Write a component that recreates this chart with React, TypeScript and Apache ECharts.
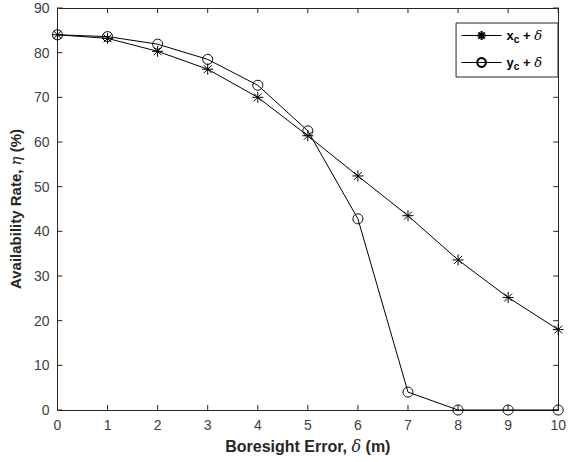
import React, { useEffect, useRef } from "react";
import * as echarts from "echarts";

const xValues = [0, 1, 2, 3, 4, 5, 6, 7, 8, 9, 10];
const xcSeries = [84, 83.2, 80.3, 76.3, 70, 61.4, 52.4, 43.5, 33.6, 25.2, 18];
const ycSeries = [84, 83.6, 81.9, 78.5, 72.7, 62.5, 42.8, 4, 0, 0, 0];
const xTicks = [0, 1, 2, 3, 4, 5, 6, 7, 8, 9, 10];
const yTicks = [0, 10, 20, 30, 40, 50, 60, 70, 80, 90];

const STAR = "path://M0,-6L0,6M-6,0L6,0M-4.3,-4.3L4.3,4.3M-4.3,4.3L4.3,-4.3";
const INK = "#262626";
const FONT = "Liberation Sans, Arial, sans-serif";
const TICK = 5;

export default function App() {
  const ref = useRef<HTMLDivElement>(null);
  useEffect(() => {
    if (!ref.current) return;
    const chart = echarts.init(ref.current, undefined, { renderer: "svg" });
    const legendRich = {
      a: { fontFamily: FONT, fontWeight: "bold", fontSize: 13, color: "#000" },
      s: { fontFamily: FONT, fontWeight: "bold", fontSize: 10, color: "#000", padding: [7, 0, 0, 0] },
      i: { fontFamily: "DejaVu Serif, serif", fontStyle: "italic", fontSize: 13, color: "#000" },
    };
    const nameRichY = {
      b: { fontFamily: FONT, fontWeight: "bold", fontSize: 15, color: INK },
      i: { fontFamily: "DejaVu Serif, serif", fontStyle: "italic", fontSize: 15, color: INK },
    };
    const nameRichX = {
      b: { fontFamily: FONT, fontWeight: "bold", fontSize: 16, color: INK },
      i: { fontFamily: "DejaVu Serif, serif", fontStyle: "italic", fontSize: 16, color: INK },
    };
    const xMin = xTicks[0];
    const xMax = xTicks[xTicks.length - 1];
    const yMin = yTicks[0];
    const yMax = yTicks[yTicks.length - 1];
    const tickData: number[][] = [];
    xTicks.forEach((v) => {
      tickData.push([v, yMin, 0]);
      tickData.push([v, yMax, 1]);
    });
    yTicks.forEach((v) => {
      tickData.push([xMin, v, 2]);
      tickData.push([xMax, v, 3]);
    });
    const line = { show: true, onZero: false, lineStyle: { color: INK, width: 1 } };
    const label = { color: "#404040", fontSize: 14, fontFamily: FONT, margin: 8 };
    chart.setOption({
      animation: false,
      backgroundColor: "#fff",
      grid: { left: 55, right: 7, top: 8, bottom: 52, show: false },
      legend: {
        data: ["xc", "yc"],
        orient: "vertical",
        right: 11,
        top: 23,
        itemWidth: 40,
        itemHeight: 11,
        itemGap: 12,
        padding: [6, 16, 6, 5],
        borderColor: INK,
        borderWidth: 1,
        backgroundColor: "#fff",
        lineStyle: { width: 1 },
        textStyle: { rich: legendRich },
        formatter: (name: string) =>
          name === "xc" ? "{a|x}{s|c}{a| + }{i|δ}" : "{a|y}{s|c}{a| + }{i|δ}",
      },
      xAxis: [
        {
          type: "value",
          position: "bottom",
          min: xMin,
          max: xMax,
          interval: 1,
          axisLine: line,
          axisTick: { show: false },
          splitLine: { show: false },
          axisLabel: label,
          name: "{b|Boresight Error, }{i|δ}{b| (m)}",
          nameLocation: "middle",
          nameGap: 28,
          nameTextStyle: { rich: nameRichX },
        },
        {
          type: "value",
          position: "top",
          min: xMin,
          max: xMax,
          interval: 1,
          axisLine: line,
          axisTick: { show: false },
          splitLine: { show: false },
          axisLabel: { show: false },
        },
      ],
      yAxis: [
        {
          type: "value",
          position: "left",
          min: yMin,
          max: yMax,
          interval: 10,
          axisLine: line,
          axisTick: { show: false },
          splitLine: { show: false },
          axisLabel: label,
          name: "{b|Availability Rate, }{i|η}{b| (%)}",
          nameLocation: "middle",
          nameGap: 31,
          nameTextStyle: { rich: nameRichY },
        },
        {
          type: "value",
          position: "right",
          min: yMin,
          max: yMax,
          interval: 10,
          axisLine: line,
          axisTick: { show: false },
          splitLine: { show: false },
          axisLabel: { show: false },
        },
      ],
      series: [
        {
          name: "ticks",
          type: "custom",
          silent: true,
          z: 1,
          data: tickData,
          renderItem: (_params: any, api: any) => {
            const p = api.coord([api.value(0), api.value(1)]);
            const d = api.value(2);
            let x2 = p[0];
            let y2 = p[1];
            if (d === 0) y2 -= TICK;
            else if (d === 1) y2 += TICK;
            else if (d === 2) x2 += TICK;
            else x2 -= TICK;
            return {
              type: "line",
              shape: { x1: p[0], y1: p[1], x2, y2 },
              style: { stroke: INK, lineWidth: 1 },
            };
          },
        },
        {
          name: "xc",
          type: "line",
          data: xValues.map((x, i) => [x, xcSeries[i]]),
          symbol: STAR,
          symbolSize: 11,
          lineStyle: { color: "#000", width: 1 },
          itemStyle: { color: "rgba(0,0,0,0)", borderColor: "#000", borderWidth: 1 },
          clip: false,
          z: 3,
        },
        {
          name: "yc",
          type: "line",
          data: xValues.map((x, i) => [x, ycSeries[i]]),
          symbol: "circle",
          symbolSize: 10,
          lineStyle: { color: "#000", width: 1 },
          itemStyle: { color: "rgba(0,0,0,0)", borderColor: "#000", borderWidth: 1 },
          clip: false,
          z: 3,
        },
      ],
    });
    return () => chart.dispose();
  }, []);
  return (
    <div
      ref={ref}
      style={{ position: "fixed", left: 0, top: 0, width: 569, height: 462 }}
    />
  );
}
